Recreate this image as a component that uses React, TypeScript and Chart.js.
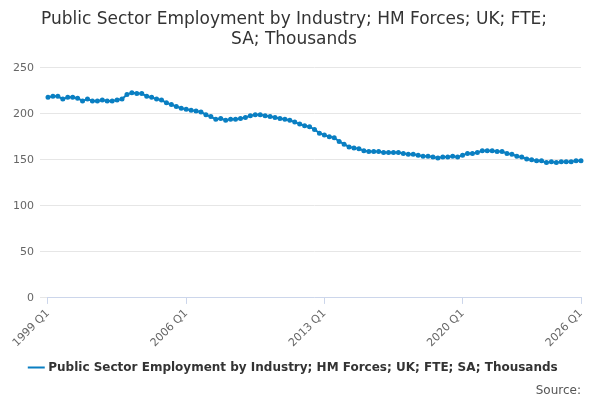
import React, { useEffect, useRef } from "react";
import { Chart, registerables } from "chart.js";
Chart.register(...registerables);

const years = Array.from({ length: 28 }, (_, i) => 1999 + i);
const labels: string[] = [];
years.forEach((y) => [1, 2, 3, 4].forEach((q) => { if (y < 2026 || q === 1) labels.push(`${y} Q${q}`); }));

const values = [
  218, 219, 219, 216, 218, 218, 217, 214, 216, 214, 214, 215, 214, 214, 215, 216,
  221, 223, 222, 222, 219, 218, 216, 215, 212, 210, 208, 206, 205, 204, 203, 202,
  199, 197, 194, 195, 193, 194, 194, 195, 196, 198, 199, 199, 198, 197, 196, 195,
  194, 193, 191, 189, 187, 186, 183, 179, 177, 175, 174, 170, 167, 164, 163, 162,
  160, 159, 159, 159, 158, 158, 158, 158, 157, 156, 156, 155, 154, 154, 153, 152,
  153, 153, 154, 153, 155, 157, 157, 158, 160, 160, 160, 159, 159, 157, 156, 154,
  153, 151, 150, 149, 149, 147, 148, 147, 148, 148, 148, 149, 149,
];
const seriesName = "Public Sector Employment by Industry; HM Forces; UK; FTE; SA; Thousands";

export default function App() {
  const ref = useRef<HTMLCanvasElement>(null);
  useEffect(() => {
    document.body.style.margin = "0";
    const c = new Chart(ref.current!, {
      type: "line",
      data: {
        labels,
        datasets: [{
          label: seriesName, data: values, borderColor: "#0a7fc2", backgroundColor: "#0a7fc2",
          borderWidth: 2, pointRadius: 1.5, pointHoverRadius: 3, tension: 0,
        }],
      },
      options: {
        animation: false, responsive: false,
        layout: { padding: { left: 7, right: 19, bottom: 2 } },
        plugins: {
          title: {
            display: true, text: ["Public Sector Employment by Industry; HM Forces; UK; FTE;", "SA; Thousands"],
            color: "#333", font: { family: "DejaVu Sans", size: 17, weight: "normal" }, padding: { top: 9, bottom: 18 },
          },
          legend: {
            position: "bottom",
            labels: { usePointStyle: true, pointStyle: "line", color: "#333", boxWidth: 20, padding: 9, font: { family: "DejaVu Sans", size: 12, weight: "bold" } },
          },
          subtitle: {
            display: true, position: "bottom", align: "end", text: "Source:", color: "#555",
            font: { family: "DejaVu Sans", size: 12 }, padding: 0,
          },
        },
        scales: {
          x: {
            grid: { display: true, drawOnChartArea: false, tickLength: 6, color: "#ccd6eb" }, border: { color: "#ccd6eb" },
            ticks: {
              autoSkip: false, maxRotation: 45, minRotation: 45, color: "#666",
              font: { family: "DejaVu Sans", size: 11 },
              callback: (_v, i) => (i % 28 === 0 || i === labels.length - 1 ? labels[i] : null),
            },
          },
          y: {
            min: 0, max: 250, border: { display: false },
            grid: { color: "#e6e6e6" },
            ticks: { stepSize: 50, color: "#666", padding: 6, font: { family: "DejaVu Sans", size: 11 } },
          },
        },
      },
    });
    return () => c.destroy();
  }, []);
  return <canvas ref={ref} width={600} height={400} />;
}
